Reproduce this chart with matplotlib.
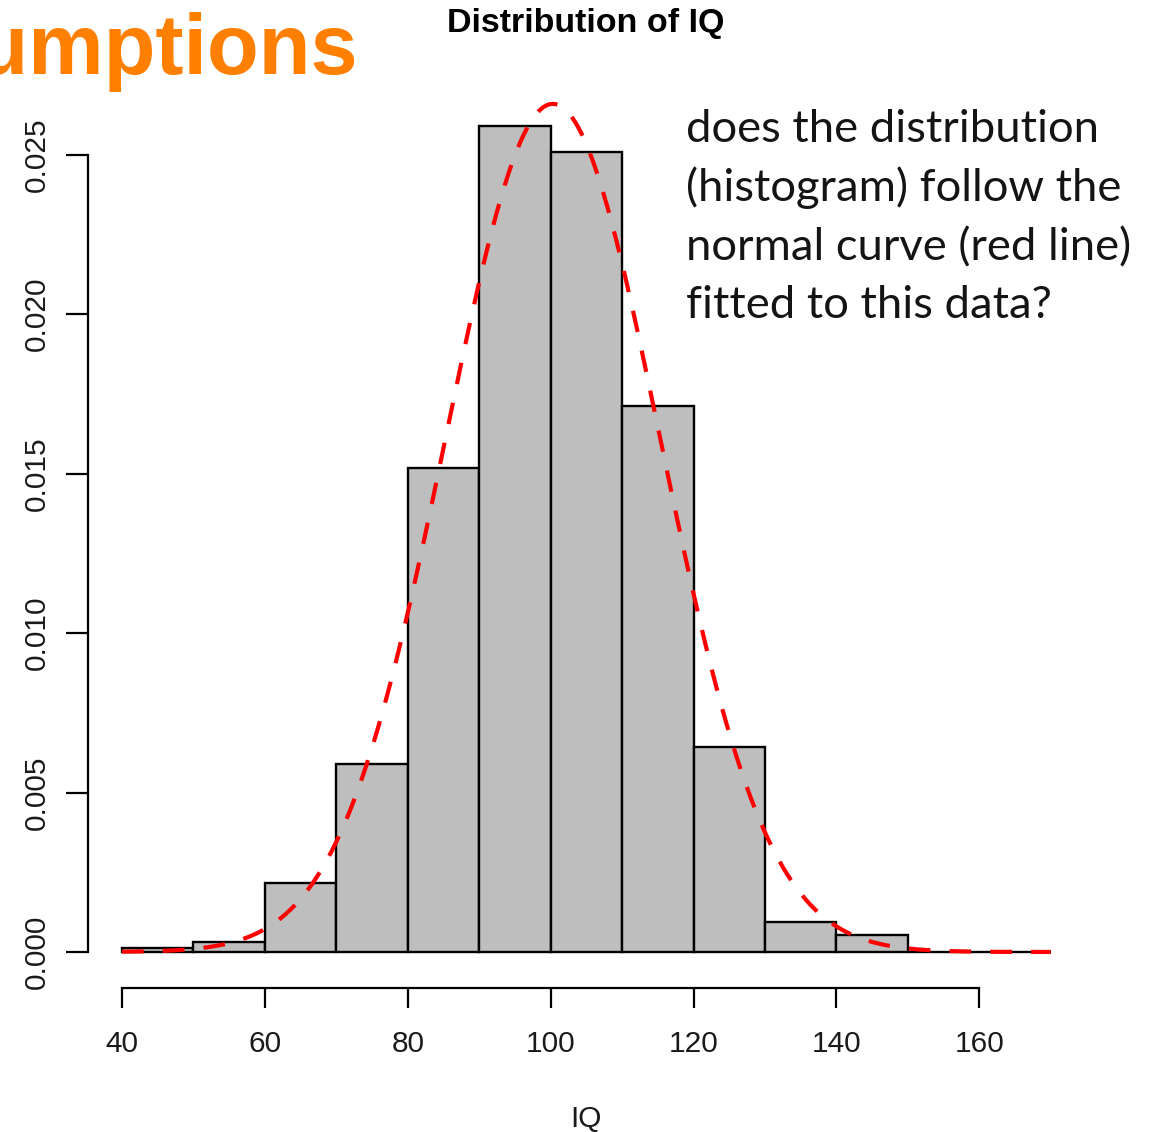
import numpy as np
import matplotlib
matplotlib.use("Agg")
import matplotlib.pyplot as plt

# ---- data ----
bin_edges = [40, 50, 60, 70, 80, 90, 100, 110, 120, 130, 140, 150, 160, 170]
densities = [0.00013, 0.00030, 0.00216, 0.00588, 0.01518, 0.02590, 0.02510,
             0.01713, 0.00643, 0.00094, 0.00053, 0.0, 0.0]
fit_mean = 100.3
fit_sd = 15.0
x_ticks = [40, 60, 80, 100, 120, 140, 160]
y_ticks = [0.000, 0.005, 0.010, 0.015, 0.020, 0.025]
y_tick_labels = ["0.000", "0.005", "0.010", "0.015", "0.020", "0.025"]
title = "Distribution of IQ"
xlabel = "IQ"
side_lines = ["does the distribution", "(histogram) follow the",
              "normal curve (red line)", "fitted to this data?"]
slide_title = "Assumptions"

W, H = 1149, 1132
fig = plt.figure(figsize=(W / 100, H / 100), dpi=100)
fig.patch.set_facecolor("white")

def fx(px):
    return px / W

def fy(py):
    return 1 - py / H

# axes region (R plot region)
left_px, right_px, top_px, bot_px = 88, 1088, 40, 988
ax = fig.add_axes([fx(left_px), fy(bot_px), fx(right_px - left_px), (bot_px - top_px) / H])
ax.set_xlim(35.24, 175.2)
ax.set_ylim(-0.00113, 0.0286)
ax.patch.set_alpha(0)

lefts = bin_edges[:-1]
widths = np.diff(bin_edges)
ax.bar(lefts, densities, width=widths, align="edge", color="#BEBEBE",
       edgecolor="black", linewidth=1.7, zorder=2)

xs = np.linspace(bin_edges[0], bin_edges[-1], 600)
ys = np.exp(-0.5 * ((xs - fit_mean) / fit_sd) ** 2) / (fit_sd * np.sqrt(2 * np.pi))
ax.plot(xs, ys, color="red", linewidth=3.0, linestyle=(0, (5.2, 4.6)),
        dash_capstyle="butt", zorder=3)

for s in ["top", "right"]:
    ax.spines[s].set_visible(False)
ax.spines["bottom"].set_bounds(40, 160)
ax.spines["left"].set_bounds(0, 0.025)
for s in ["bottom", "left"]:
    ax.spines[s].set_linewidth(1.6)

ax.set_xticks(x_ticks)
ax.set_xticklabels([str(v) for v in x_ticks])
ax.set_yticks(y_ticks)
ax.set_yticklabels(y_tick_labels)
tick_font = {"family": "Liberation Sans", "size": 21.5}
for lab in ax.get_xticklabels():
    lab.set_fontproperties(matplotlib.font_manager.FontProperties(**tick_font))
    lab.set_color("#1a1a1a")
for lab in ax.get_yticklabels():
    lab.set_fontproperties(matplotlib.font_manager.FontProperties(**tick_font))
    lab.set_color("#1a1a1a")
    lab.set_rotation(90)
    lab.set_va("center")
ax.tick_params(axis="x", length=14.5, width=1.6, pad=16)
ax.tick_params(axis="y", length=15.8, width=1.6, pad=11)

# title and axis label
fig.text(fx(586), fy(32), title, ha="center", va="baseline",
         family="Liberation Sans", weight="bold", size=24.5, color="black")
fig.text(fx(586), fy(1127), xlabel, ha="center", va="baseline",
         family="Liberation Sans", size=21.5, color="#1a1a1a")

# side annotation
baselines = [142, 201, 260, 318]
for line, b in zip(side_lines, baselines):
    fig.text(fx(686), fy(b), line, ha="left", va="baseline",
             family="Lato", size=32.7, color="#141414")

# cut-off slide title
fig.text(fx(359), fy(74), slide_title, ha="right", va="baseline",
         family="Liberation Sans", weight="bold", size=61, color="#FF7F00")

fig.savefig("out.png", dpi=100, facecolor="white")
